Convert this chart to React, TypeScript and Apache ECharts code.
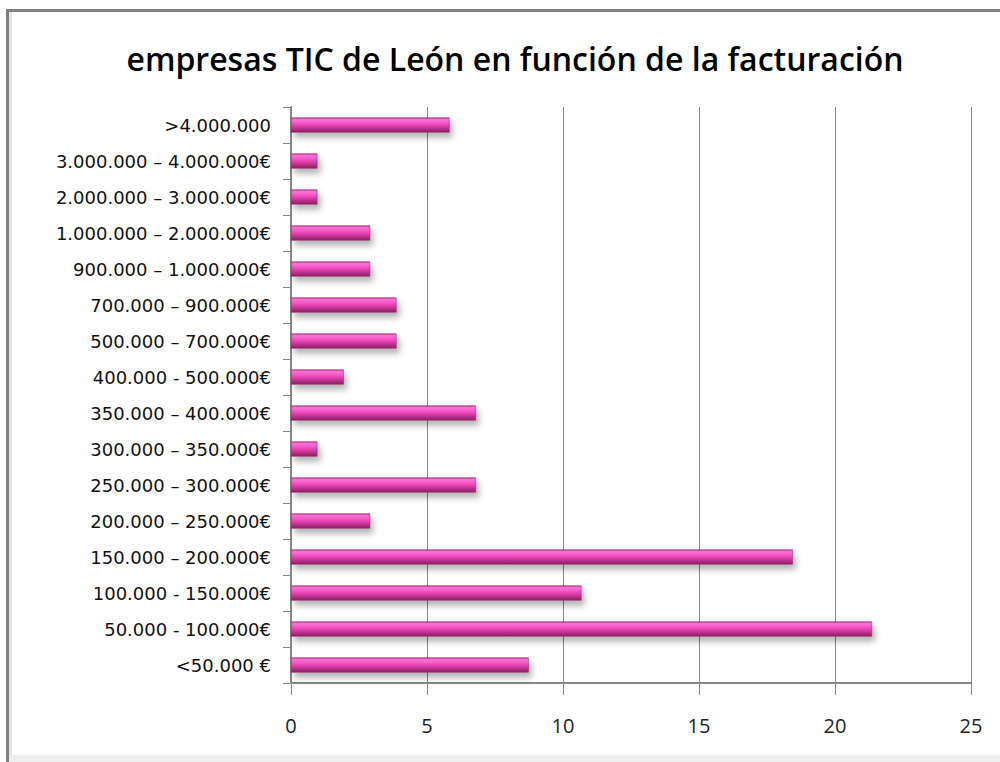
import React, { useEffect, useRef } from "react";
import * as echarts from "echarts";

const TITLE = "empresas TIC de León en función de la facturación";

const categories = [
  ">4.000.000",
  "3.000.000 – 4.000.000€",
  "2.000.000 – 3.000.000€",
  "1.000.000 – 2.000.000€",
  "900.000 – 1.000.000€",
  "700.000 – 900.000€",
  "500.000 – 700.000€",
  "400.000 - 500.000€",
  "350.000 – 400.000€",
  "300.000 – 350.000€",
  "250.000 – 300.000€",
  "200.000 – 250.000€",
  "150.000 – 200.000€",
  "100.000 - 150.000€",
  "50.000 - 100.000€",
  "<50.000 €",
];

const values = [5.83, 0.97, 0.97, 2.91, 2.91, 3.88, 3.88, 1.94, 6.8, 0.97, 6.8, 2.91, 18.45, 10.68, 21.36, 8.74];

const xTicks = { min: 0, max: 25, interval: 5 };

export default function App() {
  const ref = useRef<HTMLDivElement>(null);
  useEffect(() => {
    if (!ref.current) return;
    const chart = echarts.init(ref.current, null, { renderer: "svg" });
    const barGradient = new echarts.graphic.LinearGradient(0, 0, 0, 1, [
      { offset: 0, color: "#c8318f" },
      { offset: 0.12, color: "#ff72d8" },
      { offset: 0.3, color: "#f75fca" },
      { offset: 0.55, color: "#e23ead" },
      { offset: 0.78, color: "#b52f86" },
      { offset: 1, color: "#8a1f63" },
    ]);
    chart.setOption({
      animation: false,
      backgroundColor: "#ffffff",
      title: {
        text: TITLE,
        left: 510,
        textAlign: "center",
        top: 37,
        textStyle: {
          fontFamily: "Open Sans",
          fontSize: 32,
          fontWeight: 600,
          color: "#000",
        },
      },
      graphic: [
        { type: "rect", shape: { x: 6, y: 9, width: 994, height: 3 }, style: { fill: "#808080" } },
        { type: "rect", shape: { x: 6, y: 9, width: 3, height: 753 }, style: { fill: "#808080" } },
        { type: "rect", shape: { x: 9, y: 12, width: 3, height: 750 }, style: { fill: "#e4e4e4" } },
        { type: "rect", shape: { x: 9, y: 755, width: 991, height: 7 }, style: { fill: "#eeeeee" } },
      ],
      grid: { left: 291, right: 29, top: 107, bottom: 79, containLabel: false },
      xAxis: {
        type: "value",
        min: xTicks.min,
        max: xTicks.max,
        interval: xTicks.interval,
        axisLine: { show: true, lineStyle: { color: "#868686", width: 2 } },
        axisTick: { show: true, length: 12, lineStyle: { color: "#868686", width: 1 } },
        axisLabel: { color: "#222", fontSize: 20, fontFamily: "Open Sans", margin: 32 },
        splitLine: { show: true, lineStyle: { color: "#868686", width: 1 } },
      },
      yAxis: {
        type: "category",
        data: categories,
        inverse: true,
        axisLine: { show: true, lineStyle: { color: "#868686", width: 2 } },
        axisTick: { show: true, length: 8, lineStyle: { color: "#868686", width: 1 } },
        axisLabel: { color: "#111", fontSize: 18, fontFamily: "DejaVu Sans", margin: 20 },
        splitLine: { show: false },
      },
      series: [
        {
          type: "bar",
          data: values,
          barWidth: 15,
          itemStyle: {
            color: barGradient,
            borderColor: "#8a1f63",
            borderWidth: 0.5,
            shadowColor: "rgba(0,0,0,0.3)",
            shadowBlur: 6,
            shadowOffsetX: 3,
            shadowOffsetY: 5,
          },
        },
      ],
    });
    return () => chart.dispose();
  }, []);
  return <div ref={ref} style={{ position: "fixed", left: 0, top: 0, width: 1000, height: 762 }} />;
}
